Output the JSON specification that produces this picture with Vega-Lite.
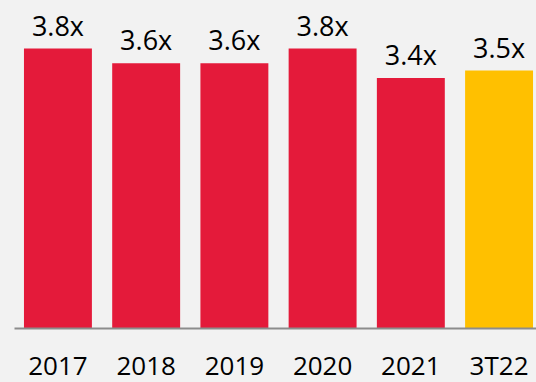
{
  "$schema": "https://vega.github.io/schema/vega-lite/v6.json",
  "autosize": {"type": "none"},
  "padding": {"left": 14, "top": 0, "right": 0, "bottom": 54},
  "width": 529,
  "height": 328,
  "background": "#F2F2F2",
  "config": {"view": {"stroke": null}},
  "data": {"values": [
    {"period": "2017", "value": 3.8, "label": "3.8x", "kind": "actual"},
    {"period": "2018", "value": 3.6, "label": "3.6x", "kind": "actual"},
    {"period": "2019", "value": 3.6, "label": "3.6x", "kind": "actual"},
    {"period": "2020", "value": 3.8, "label": "3.8x", "kind": "actual"},
    {"period": "2021", "value": 3.4, "label": "3.4x", "kind": "actual"},
    {"period": "3T22", "value": 3.5, "label": "3.5x", "kind": "ytd"}
  ]},
  "encoding": {
    "x": {
      "field": "period", "type": "nominal", "sort": null,
      "scale": {"paddingInner": 0.23, "paddingOuter": 0.113},
      "axis": {
        "title": null, "labelAngle": 0, "ticks": false, "tickSize": 0,
        "labelPadding": 25, "labelFont": "Open Sans", "labelFontSize": 26,
        "labelColor": "#000000", "domainColor": "#8C8C8C", "domainWidth": 2,
        "grid": false, "zindex": 1
      }
    },
    "y": {
      "field": "value", "type": "quantitative",
      "scale": {"domain": [0, 4.46], "nice": false},
      "axis": null
    }
  },
  "layer": [
    {
      "mark": {"type": "bar"},
      "encoding": {
        "color": {
          "field": "kind", "type": "nominal",
          "scale": {"domain": ["actual", "ytd"], "range": ["#E41A3A", "#FFC000"]},
          "legend": null
        }
      }
    },
    {
      "mark": {"type": "text", "baseline": "alphabetic", "dy": -13, "font": "Open Sans", "fontSize": 27, "color": "#000000"},
      "encoding": {"text": {"field": "label"}}
    }
  ]
}
